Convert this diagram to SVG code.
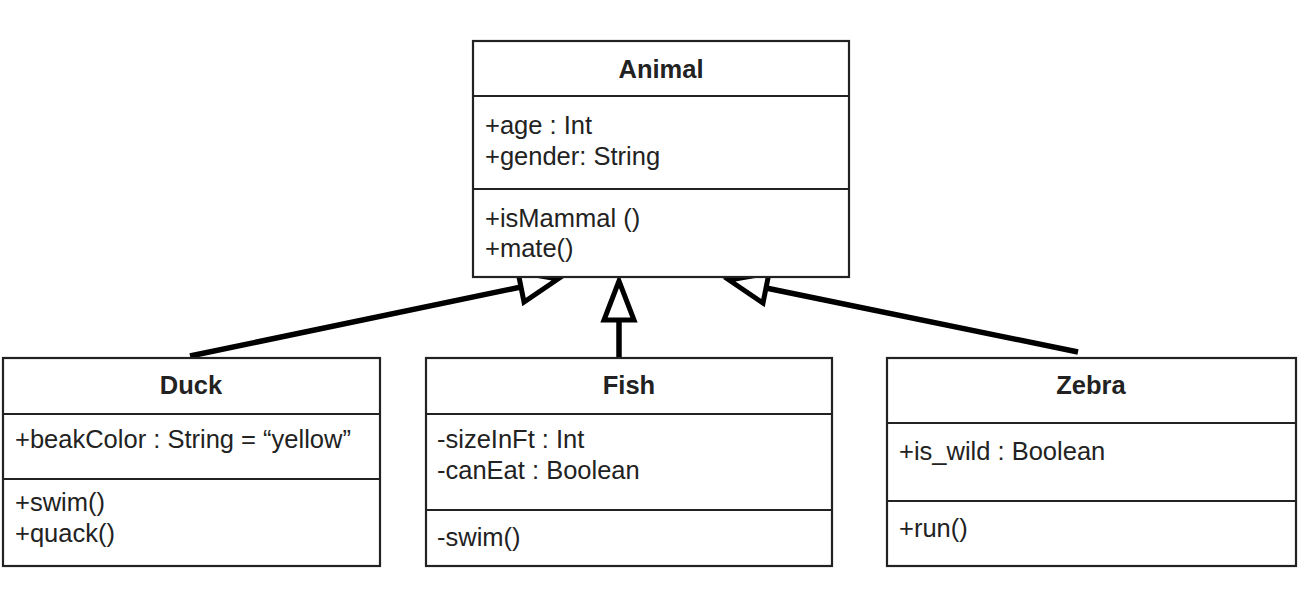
<svg xmlns="http://www.w3.org/2000/svg" width="1311" height="590" viewBox="0 0 1311 590">
<style>
.box{fill:#fff;stroke:#222;stroke-width:2.2}
.div{stroke:#222;stroke-width:2.2}
.t{font-family:"Liberation Sans",Arial,sans-serif;font-size:25.5px;fill:#222}
.h{font-family:"Liberation Sans",Arial,sans-serif;font-size:25.5px;font-weight:bold;fill:#222;text-anchor:middle}
.c{fill:none;stroke:#000;stroke-width:5.5}
.ah{fill:#fff;stroke:#000;stroke-width:5;stroke-linejoin:miter}
</style>
<rect width="1311" height="590" fill="#fff"/>
<g id="connectors">
<line class="c" x1="190" y1="356" x2="521" y2="287"/>
<polygon class="ah" points="558,279 524,302 518,272"/>
<line class="c" x1="619" y1="357" x2="619" y2="320"/>
<polygon class="ah" points="619,281 604,320 634,320"/>
<line class="c" x1="1078" y1="352" x2="766" y2="288"/>
<polygon class="ah" points="729,280 763,303 769,273"/>
</g>
<g id="animal">
<rect class="box" x="473" y="41" width="376" height="236"/>
<line class="div" x1="473" y1="96" x2="849" y2="96"/>
<line class="div" x1="473" y1="189" x2="849" y2="189"/>
<text class="h" x="661" y="78">Animal</text>
<text class="t" x="485" y="134">+age : Int</text>
<text class="t" x="485" y="165">+gender: String</text>
<text class="t" x="485" y="227">+isMammal ()</text>
<text class="t" x="485" y="257">+mate()</text>
</g>
<g id="duck">
<rect class="box" x="3" y="358" width="377" height="208"/>
<line class="div" x1="3" y1="414" x2="380" y2="414"/>
<line class="div" x1="3" y1="479" x2="380" y2="479"/>
<text class="h" x="191" y="394">Duck</text>
<text class="t" x="15" y="448">+beakColor : String = “yellow”</text>
<text class="t" x="15" y="511">+swim()</text>
<text class="t" x="15" y="542">+quack()</text>
</g>
<g id="fish">
<rect class="box" x="426" y="358" width="406" height="208"/>
<line class="div" x1="426" y1="414" x2="832" y2="414"/>
<line class="div" x1="426" y1="510" x2="832" y2="510"/>
<text class="h" x="629" y="394">Fish</text>
<text class="t" x="437" y="448">-sizeInFt : Int</text>
<text class="t" x="437" y="479">-canEat : Boolean</text>
<text class="t" x="437" y="546">-swim()</text>
</g>
<g id="zebra">
<rect class="box" x="887" y="358" width="409" height="208"/>
<line class="div" x1="887" y1="423" x2="1296" y2="423"/>
<line class="div" x1="887" y1="501" x2="1296" y2="501"/>
<text class="h" x="1091" y="394">Zebra</text>
<text class="t" x="899" y="460">+is_wild : Boolean</text>
<text class="t" x="899" y="537">+run()</text>
</g>
</svg>
